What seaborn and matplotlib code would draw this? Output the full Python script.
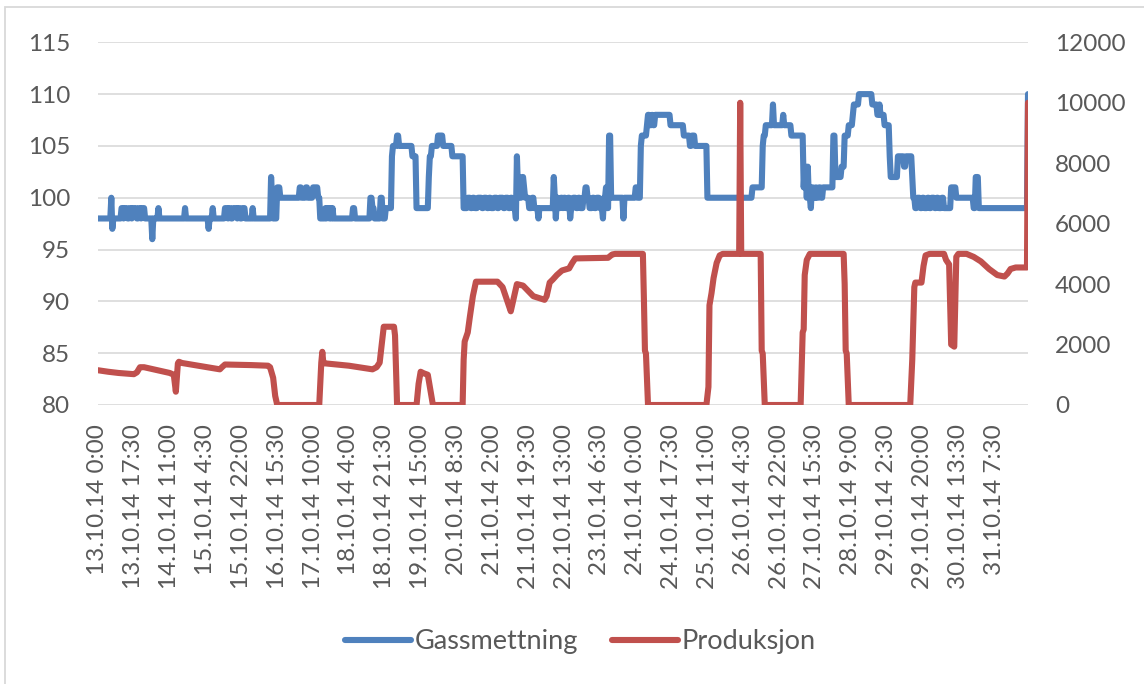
import numpy as np
import matplotlib
matplotlib.use("Agg")
import matplotlib.pyplot as plt
import seaborn as sns
from matplotlib.lines import Line2D
from matplotlib.patches import Rectangle

# Category labels on the time axis (one label every 35 half-hour samples)
tick_labels = [
    "13.10.14 0:00", "13.10.14 17:30", "14.10.14 11:00", "15.10.14 4:30",
    "15.10.14 22:00", "16.10.14 15:30", "17.10.14 10:00", "18.10.14 4:00",
    "18.10.14 21:30", "19.10.14 15:00", "20.10.14 8:30", "21.10.14 2:00",
    "21.10.14 19:30", "22.10.14 13:00", "23.10.14 6:30", "24.10.14 0:00",
    "24.10.14 17:30", "25.10.14 11:00", "26.10.14 4:30", "26.10.14 22:00",
    "27.10.14 15:30", "28.10.14 9:00", "29.10.14 2:30", "29.10.14 20:00",
    "30.10.14 13:30", "31.10.14 7:30",
]
tick_step = 35

# Gassmettning (%), half-hour samples stored as (level, number of samples)
gass_runs = [
    (98, 13), (100, 1), (97, 1), (98, 8),
    (99, 2), (98, 1), (99, 3), (98, 2), (99, 2), (98, 1), (99, 4), (98, 2),
    (99, 2), (98, 1), (99, 3), (98, 1),
    (98, 6), (96, 1), (98, 5), (99, 1), (98, 25), (99, 1), (98, 22), (97, 1),
    (98, 3), (99, 1), (98, 11),
    (99, 3), (98, 1), (99, 2), (98, 2), (99, 4), (98, 1), (99, 2), (98, 2),
    (99, 3), (98, 2),
    (98, 5), (99, 1), (98, 17), (102, 1), (100, 1), (98, 4), (101, 3),
    (100, 19), (101, 2), (100, 4), (101, 2), (100, 5), (101, 5), (100, 2),
    (98, 5), (99, 1), (98, 1), (99, 2), (98, 1), (99, 1), (98, 1), (99, 1),
    (98, 19), (99, 2), (98, 15), (100, 2), (99, 2), (98, 6), (100, 2),
    (98, 3), (99, 6), (104, 1), (105, 4), (106, 2), (105, 13), (104, 4),
    (99, 12), (102, 1), (104, 2), (105, 6), (106, 5), (105, 9), (104, 11),
    (99, 4), (100, 3), (99, 2), (100, 2), (99, 3), (100, 4), (99, 2),
    (100, 3), (99, 2), (100, 2), (99, 3), (100, 3), (99, 2), (100, 4),
    (99, 2), (100, 3), (99, 2), (100, 2), (99, 3),
    (98, 1), (104, 1), (101, 2), (100, 2), (102, 2), (101, 1), (100, 4),
    (99, 3), (100, 2), (99, 4), (98, 1), (99, 14), (102, 1), (100, 1),
    (98, 1), (100, 2), (99, 2), (100, 2), (99, 1), (100, 2), (99, 2),
    (100, 2), (98, 1), (99, 2), (100, 3), (99, 2), (100, 2), (99, 3),
    (100, 2), (101, 2), (100, 2), (99, 3), (100, 2), (99, 2), (100, 3),
    (99, 3), (98, 1), (100, 2), (101, 1), (99, 2), (106, 2), (100, 12),
    (98, 1), (100, 11), (101, 2), (100, 3), (105, 1), (106, 5), (107, 1),
    (108, 2), (107, 2), (108, 1), (107, 2), (108, 15), (107, 13), (106, 6),
    (105, 2), (106, 3), (105, 12), (100, 44), (101, 10), (105, 1),
    (106, 2), (107, 7), (109, 1), (107, 9), (108, 1), (107, 7), (106, 12),
    (101, 1), (103, 2), (100, 1), (103, 1), (100, 2), (99, 1), (101, 2),
    (100, 2), (101, 1), (100, 2), (101, 2), (100, 2), (101, 10),
    (106, 2), (102, 6), (103, 3), (106, 4), (107, 4), (108, 1), (109, 5),
    (110, 13), (109, 5), (108, 2), (109, 1), (108, 4), (107, 5), (104, 1),
    (102, 7), (104, 6), (103, 2), (104, 6), (102, 1), (100, 2),
    (99, 2), (100, 3), (99, 2), (100, 2), (99, 3), (100, 2), (99, 2),
    (100, 3), (99, 2), (100, 2), (99, 3), (100, 2),
    (99, 7), (101, 5), (100, 17), (99, 2), (102, 3), (99, 48), (110, 1),
]

# Produksjon: sample number and value where the curve changes course
prod_idx = [
    0, 10, 20, 35, 38, 41, 45, 70, 74, 76, 78, 79, 82, 119, 121, 124, 150,
    166, 168, 171, 173, 175, 216, 218, 219, 220, 221, 245, 268, 272, 275,
    277, 279, 289, 290, 292, 311, 313, 315, 318, 322, 325, 327, 356, 357,
    358, 361, 363, 366, 369, 390, 395, 400, 403, 407, 409, 415, 425, 436,
    438, 441, 444, 448, 453, 460, 463, 466, 498, 502, 505, 532, 533, 534,
    535, 537, 594, 596, 597, 599, 601, 604, 607, 610, 626, 627, 628, 647,
    648, 649, 651, 686, 688, 689, 690, 692, 695, 728, 729, 730, 731, 733,
    793, 795, 797, 798, 804, 806, 808, 812, 826, 828, 831, 833, 836, 838,
    840, 848, 855, 862, 870, 878, 885, 888, 891, 896, 907, 908,
]
prod_val = [
    1150, 1100, 1060, 1020, 1080, 1250, 1250, 1060, 1000, 440, 1380, 1430,
    1390, 1180, 1250, 1340, 1320, 1300, 1250, 900, 300, 0, 0, 1400, 1760,
    1400, 1380, 1300, 1180, 1250, 1400, 2000, 2590, 2590, 2300, 0, 0, 700,
    1100, 1050, 1000, 400, 0, 0, 1500, 2100, 2400, 2900, 3600, 4080, 4080,
    3900, 3400, 3100, 3700, 4000, 3950, 3600, 3480, 3600, 4050, 4150, 4300,
    4450, 4520, 4700, 4850, 4870, 4980, 5000, 5000, 3500, 1800, 1700, 0, 0,
    600, 3300, 3700, 4200, 4700, 4950, 5000, 5000, 10000, 5000, 5000, 1800,
    1700, 0, 0, 2400, 2500, 4300, 4800, 5000, 5000, 4000, 1800, 1700, 0, 0,
    1500, 3900, 4050, 4050, 4600, 4950, 5000, 5000, 4800, 4650, 2000, 1930,
    4900, 5000, 5000, 4900, 4750, 4500, 4300, 4250, 4350, 4500, 4550, 4550,
    10000,
]

BLUE = "#4F81BD"
RED = "#C0504D"
GRID = "#D9D9D9"
TEXT = "#595959"
FS = 17.5
LEG_FS = 19.5
LW = 4.4

sns.set_theme(style="white")
plt.rcParams["font.family"] = ["Lato", "DejaVu Sans"]

gass_vals = np.repeat([v for v, _ in gass_runs], [n for _, n in gass_runs])
n_samples = len(gass_vals)

W, H = 1144, 684
fig = plt.figure(figsize=(W / 100, H / 100), dpi=100)
ax = fig.add_axes([98 / W, 1 - 405 / H, 930 / W, (405 - 42.3) / H])
ax2 = ax.twinx()

line_kw = dict(lw=LW, estimator=None, solid_capstyle="round",
               solid_joinstyle="round", legend=False)
sns.lineplot(x=np.arange(n_samples), y=gass_vals, ax=ax, color=BLUE, **line_kw)
sns.lineplot(x=prod_idx, y=prod_val, ax=ax2, color=RED, **line_kw)

ax.set_xlim(0, n_samples - 1)
ax.set_ylim(80, 115)
ax.set_yticks(np.arange(80, 116, 5))
ax2.set_ylim(0, 12000)
ax2.set_yticks(np.arange(0, 12001, 2000))

ticks = np.arange(len(tick_labels)) * tick_step
ax.set_xticks(ticks)
ax.set_xticklabels(tick_labels, rotation=90, va="top", ha="center")
ax.set_xlabel("")
ax.set_ylabel("")
ax2.set_ylabel("")

ax.yaxis.grid(True, color=GRID, lw=1.2)
ax.xaxis.grid(False)
ax2.grid(False)
ax.set_axisbelow(True)
for a in (ax, ax2):
    for s in a.spines.values():
        s.set_visible(False)

ax.tick_params(axis="x", length=0, pad=14, labelsize=FS, labelcolor=TEXT)
ax.tick_params(axis="y", length=0, pad=20, labelsize=FS, labelcolor=TEXT)
ax2.tick_params(axis="y", length=0, pad=19.5, labelsize=FS, labelcolor=TEXT)

handles = [Line2D([], [], color=BLUE, lw=LW, solid_capstyle="round"),
           Line2D([], [], color=RED, lw=LW, solid_capstyle="round")]
leg = fig.legend(handles, ["Gassmettning", "Produksjon"], loc="center",
                 bbox_to_anchor=(0.507, 1 - 642 / H), ncol=2, frameon=False,
                 fontsize=LEG_FS, handlelength=2.45, handletextpad=0.12,
                 columnspacing=1.25)
for t in leg.get_texts():
    t.set_color(TEXT)

# Chart-area frame
fig.patches.append(Rectangle((5 / W, -0.5), 2, 0.5 + 1 - 7 / H,
                             transform=fig.transFigure, fill=False,
                             edgecolor=GRID, lw=1.3))

fig.savefig("out.png", dpi=100)
